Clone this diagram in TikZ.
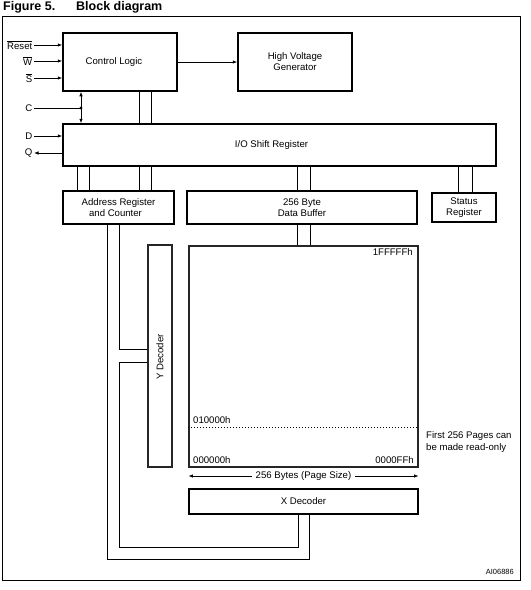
\documentclass[tikz,border=0pt]{standalone}
\usepackage{fontspec}
\setmainfont{Liberation Sans}
\usetikzlibrary{arrows.meta}
\begin{document}
\begin{tikzpicture}[x=1pt,y=-1pt,
  every node/.style={font=\fontsize{9.6}{11}\selectfont, inner sep=0pt},
  blk/.style={draw, line width=1.5pt, align=center},
  arr/.style={draw, line width=1.5pt, align=center, draw=black!85},
  thin/.style={line width=0.75pt},
  tip/.style={-{Latex[length=4.5pt,width=3.5pt]}},
  tips/.style={{Latex[length=4.5pt,width=3.5pt]}-{Latex[length=4.5pt,width=3.5pt]}},
  pin/.style={anchor=east, inner sep=1.5pt}]
\useasboundingbox (0,0) rectangle (531,590);
% title
\node[anchor=west, font=\fontsize{12.5}{14}\bfseries] (fig) at (3,7) {Figure 5.};
\node[anchor=west, font=\fontsize{12.5}{14}\bfseries] (ttl) at (76,7) {Block diagram};
% frame
\draw[line width=1pt] (2.5,16) rectangle (520.5,580);
% blocks
\node[blk, minimum width=114, minimum height=58] (cl) at (120,62) {Control Logic\hspace*{12pt}};
\node[blk, minimum width=114, minimum height=58] (hv) at (295,62) {High Voltage\\Generator};
\node[blk, minimum width=433, minimum height=42] (io) at (279.5,145) {I/O Shift Register\hspace*{16pt}};
\node[blk, minimum width=111, minimum height=33] (ar) at (118.5,207.5) {Address Register\\and Counter\hspace*{6pt}};
\node[blk, minimum width=230, minimum height=33] (db) at (302,207.5) {256 Byte\\Data Buffer};
\node[blk, minimum width=64, minimum height=29] (sr) at (464,207.5) {Status\\Register};
\node[arr, line width=1.1pt, minimum width=229, minimum height=221] (mem) at (303.5,356.5) {};
\node[arr, line width=1.1pt, minimum width=24, minimum height=222] (yd) at (160,356) {};
\node[rotate=90] (ydt) at (160,357) {Y Decoder};
\node[blk, minimum width=229, minimum height=25] (xd) at (303.5,501.5) {X Decoder};
% pins
\node[pin] (lrst) at (34,45) {$\overline{\mbox{Reset}}$};
\node[pin] (lw) at (34,61) {$\overline{\mbox{W}}$};
\node[pin] (ls) at (34,78) {$\overline{\mbox{S}}$};
\node[pin] (lc) at (34,108) {C};
\node[pin] (ld) at (34,136) {D};
\node[pin] (lq) at (34,153) {Q};
\draw[thin, tip] (lrst.east) -- (lrst.east -| cl.west);
\draw[thin, tip] (lw.east) -- (lw.east -| cl.west);
\draw[thin, tip] (ls.east) -- (ls.east -| cl.west);
\draw[thin, tip] (ld.east) -- (ld.east -| io.west);
\draw[thin, tip] (lq.east -| io.west) -- (lq.east);
\coordinate (cj) at (81,108);
\draw[thin] (lc.east) -- (cj);
\fill (cj) circle (1.6);
\draw[thin, tips] (cj |- cl.south) -- (cj |- io.north);
\draw[thin, tip] (cl.east) -- (hv.west);
% buses
\foreach \x in {139,151} \draw[thin] (\x,0 |- cl.south) -- (\x,0 |- io.north);
\foreach \x in {77,89,139,151} \draw[thin] (\x,0 |- io.south) -- (\x,0 |- ar.north);
\foreach \x in {297,310} \draw[thin] (\x,0 |- io.south) -- (\x,0 |- db.north);
\foreach \x in {458,472} \draw[thin] (\x,0 |- io.south) -- (\x,0 |- sr.north);
\foreach \x in {297,310} \draw[thin] (\x,0 |- db.south) -- (\x,0 |- mem.north);
% address paths
\draw[thin] (119,0 |- ar.south) -- (119,349) -- (yd.west |- 0,349);
\draw[thin] (107,0 |- ar.south) -- (107,559) -- (309,559) -- (309,0 |- xd.south);
\draw[thin] (yd.west |- 0,362) -- (119,362) -- (119,547) -- (298,547) -- (298,0 |- xd.south);
% memory labels
\node[anchor=east] (ftop) at (413,252) {1FFFFFh};
\node[anchor=west] (f010) at (193,420) {010000h};
\node[anchor=west] (f000) at (193,460) {000000h};
\node[anchor=east] (f0ff) at (414,460) {0000FFh};
\draw[line width=1pt, dash pattern=on 1pt off 2pt] (mem.west |- 0,427) -- (mem.east |- 0,427);
\node[anchor=west, align=left, font=\fontsize{9.6}{12.5}\selectfont] (ro) at (426,442) {First 256 Pages can\\be made read-only};
\draw[thin, tips] (mem.west |- 0,476) -- (mem.east |- 0,476) node[midway, fill=white, inner xsep=4pt, inner ysep=1pt] (psz) {256 Bytes (Page Size)};
\node[anchor=east, font=\fontsize{7.5}{9}\selectfont] (ai) at (514,572) {AI06886};
\end{tikzpicture}
\end{document}
